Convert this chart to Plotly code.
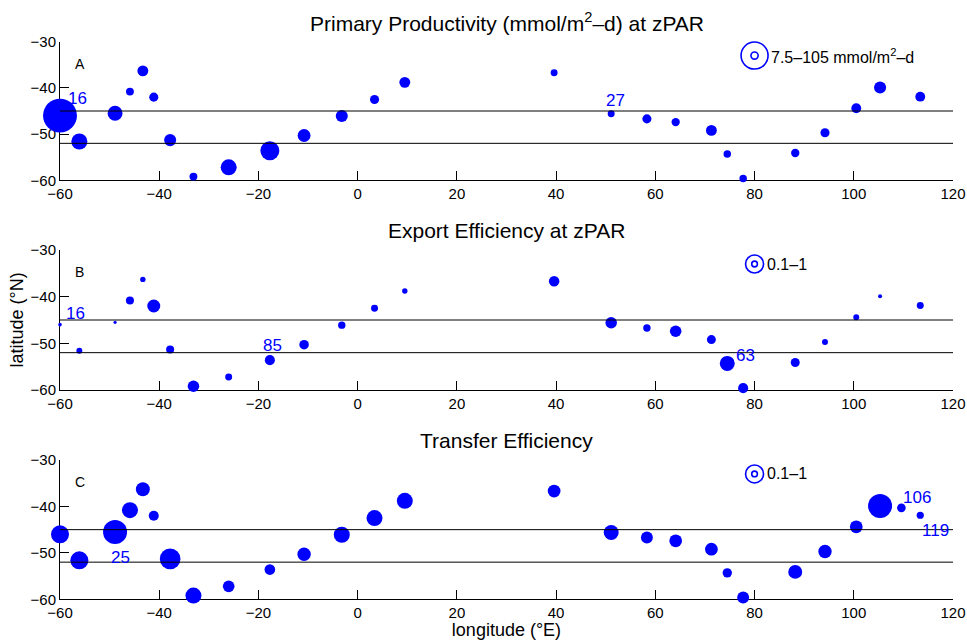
import numpy as np
import plotly.graph_objects as go

# Station positions (longitude °E, latitude °N)
lon = [-60.0, -56.1, -48.9, -45.9, -43.3, -41.1, -37.8, -33.1, -26.0, -17.7, -10.8, -3.2, 3.4, 9.5,
       39.6, 51.1, 58.3, 64.1, 71.3, 74.5, 77.7, 88.2, 94.2, 100.5, 105.3, 109.6, 113.4]
lat = [-46.0, -51.6, -45.5, -40.8, -36.3, -42.0, -51.3, -59.2, -57.2, -53.6, -50.3, -46.1, -42.5, -38.8,
       -36.7, -45.6, -46.7, -47.4, -49.2, -54.3, -59.6, -54.1, -49.7, -44.4, -39.9, -40.3, -41.9]

# Primary productivity at zPAR (mmol/m2-d); None = not measured
prim_prod = [166, 37, 32, 9, 17, 12, 21, 9, 37, 52, 24, 21, 12, 17,
             7, 7, 12, 10, 17, 8, 8, 10, 12, 14, 21, None, 14]
# Export efficiency at zPAR
export_eff = [0.04, 0.11, 0.03, 0.20, 0.09, 0.52, 0.20, 0.41, 0.15, 0.31, 0.28, 0.17, 0.15, 0.09,
              0.34, 0.41, 0.17, 0.41, 0.25, 0.69, 0.31, 0.25, 0.11, 0.11, 0.05, None, 0.15]
# Transfer efficiency
transfer_eff = [1.00, 1.00, 1.78, 0.79, 0.60, 0.31, 1.32, 0.79, 0.42, 0.35, 0.55, 0.79, 0.79, 0.79,
                0.50, 0.69, 0.44, 0.50, 0.50, 0.27, 0.44, 0.60, 0.55, 0.50, 1.78, 0.23, 0.16]

titles = ["Primary Productivity (mmol/m<sup>2</sup>–d) at zPAR",
          "Export Efficiency at zPAR",
          "Transfer Efficiency"]
letters = ["A", "B", "C"]
legend_ranges = [(7.5, 105), (0.1, 1), (0.1, 1)]
legend_texts = ["7.5–105 mmol/m<sup>2</sup>–d", "0.1–1", "0.1–1"]
# station number labels: (station index, text, x shift px, y shift px)
station_labels = [
    [(0, "16", 17, 17), (15, "27", 4, 13)],
    [(0, "16", 15, 11), (9, "85", 3, 15), (19, "63", 18, 8)],
    [(2, "25", 5, -26), (25, "106", 16, 10), (26, "119", 15, -15)],
]
sep_lats = [-45, -52]
x_ticks = list(range(-60, 121, 20))
y_ticks = [-60, -50, -40, -30]

series = [prim_prod, export_eff, transfer_eff]
# marker diameter (px) of the largest legend circle in each panel
ref_diam = [27, 18, 18]

BLUE = "#0000FF"
FONT = "Liberation Sans, Arial, sans-serif"

W, H = 967, 640
x_dom = [60 / W, 953 / W]
y_px = [(41.7, 180.3), (250.0, 390.0), (460.0, 599.3)]

fig = go.Figure()

for i in range(3):
    sfx = "" if i == 0 else str(i + 1)
    xa, ya = "x" + sfx, "y" + sfx
    vals = np.array([np.nan if v is None else v for v in series[i]], dtype=float)
    ok = ~np.isnan(vals)
    vmax = legend_ranges[i][1]
    k = ref_diam[i] / np.sqrt(vmax)
    sizes = k * np.sqrt(vals[ok])
    fig.add_trace(go.Scatter(
        x=np.array(lon)[ok], y=np.array(lat)[ok], mode="markers",
        marker=dict(color=BLUE, size=sizes, sizemode="diameter", opacity=1, line=dict(width=0)),
        xaxis=xa, yaxis=ya, cliponaxis=False, showlegend=False, hoverinfo="skip"))
    # size key: open circles for the two ends of the range
    lo, hi = legend_ranges[i]
    key_lat = -33.0
    fig.add_trace(go.Scatter(
        x=[80, 80], y=[key_lat, key_lat], mode="markers",
        marker=dict(symbol="circle-open", color=BLUE, opacity=1,
                    size=[k * np.sqrt(hi), k * np.sqrt(lo)], line=dict(width=1.6, color=BLUE)),
        xaxis=xa, yaxis=ya, cliponaxis=False, showlegend=False, hoverinfo="skip"))
    fig.add_annotation(x=80, y=key_lat, xref=xa, yref=ya, text=legend_texts[i],
                       showarrow=False, xanchor="left", yanchor="middle",
                       xshift=k * np.sqrt(hi) / 2 + 1, font=dict(size=16, color="black", family=FONT))
    # separator latitudes
    for sl in sep_lats:
        fig.add_shape(type="line", x0=-60, x1=120, y0=sl, y1=sl, xref=xa, yref=ya,
                      line=dict(color="black", width=1), layer="above")
    # panel letter
    fig.add_annotation(x=-56, y=-34.8, xref=xa, yref=ya, text=letters[i], showarrow=False,
                       font=dict(size=14, color="black", family=FONT))
    # station numbers
    for idx, txt, dx, dy in station_labels[i]:
        fig.add_annotation(x=lon[idx], y=lat[idx], xref=xa, yref=ya, text=txt, showarrow=False,
                           xshift=dx, yshift=dy, font=dict(size=17, color=BLUE, family=FONT))
    # panel title
    top = y_px[i][0]
    fig.add_annotation(x=(x_dom[0] + x_dom[1]) / 2, y=1 - (top - 19.5) / H, xref="paper", yref="paper",
                       text=titles[i], showarrow=False, yanchor="middle",
                       font=dict(size=21, color="black", family=FONT))

    axis_common = dict(showline=True, linecolor="black", linewidth=1, ticks="inside", ticklen=9,
                       tickcolor="black", tickwidth=1, showgrid=False, zeroline=False,
                       tickfont=dict(size=15, color="black", family=FONT), layer="below traces",
                       fixedrange=True, automargin=False)
    fig.update_layout(**{
        "xaxis" + sfx: dict(domain=x_dom, range=[-60, 120], tickvals=x_ticks, anchor=ya,
                            **axis_common),
        "yaxis" + sfx: dict(domain=[1 - y_px[i][1] / H, 1 - y_px[i][0] / H], range=[-60, -30],
                            tickvals=y_ticks, anchor=xa, **axis_common),
    })

fig.update_layout(
    xaxis3_title=dict(text="longitude (°E)", font=dict(size=18, color="black", family=FONT), standoff=2),
    yaxis2_title=dict(text="latitude (°N)", font=dict(size=18, color="black", family=FONT), standoff=2),
    width=W, height=H, margin=dict(l=0, r=0, t=0, b=0),
    plot_bgcolor="white", paper_bgcolor="white", showlegend=False,
)

fig.write_html("out.html", config={"displayModeBar": False})
